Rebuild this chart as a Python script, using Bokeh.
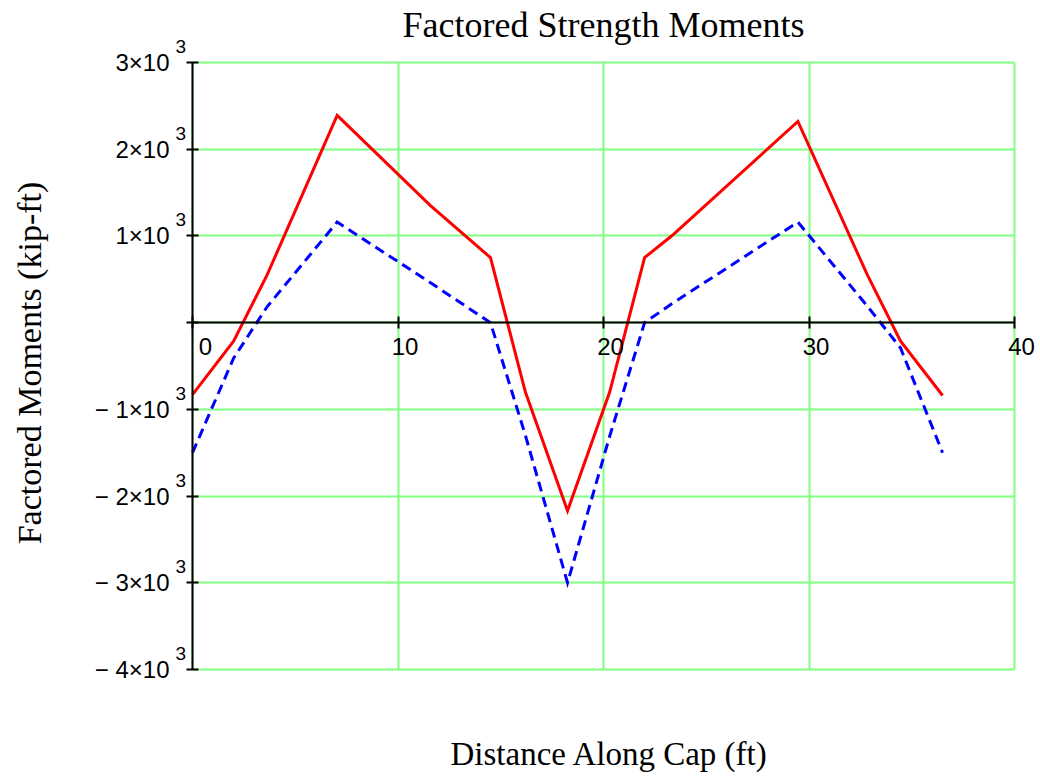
import math
from bokeh.plotting import figure
from bokeh.models import Range1d, FixedTicker, Label
from bokeh.embed import file_html
from bokeh.resources import INLINE

# ---- data ----
x_ft = [0.0, 2.0, 3.62, 7.04, 11.58, 14.5, 16.2, 18.25, 20.3, 22.0, 23.34, 29.46, 32.84, 34.45, 36.5]
m_max = [-830, -215, 545, 2390, 1350, 750, -800, -2170, -800, 750, 1005, 2320, 550, -210, -840]
m_min = [-1500, -410, 180, 1160, 460, 0, -1300, -3000, -1310, 0, 220, 1160, 190, -290, -1500]

x_ticks = [0, 10, 20, 30, 40]
x_tick_labels = ["0", "10", "20", "30", "40"]
y_ticks = [-4000, -3000, -2000, -1000, 0, 1000, 2000, 3000]
y_tick_labels = ["\u2212 4\u00d710", "\u2212 3\u00d710", "\u2212 2\u00d710", "\u2212 1\u00d710", "",
                 "1\u00d710", "2\u00d710", "3\u00d710"]
y_tick_exponents = ["3", "3", "3", "3", "", "3", "3", "3"]

title_text = "Factored Strength Moments"
x_title = "Distance Along Cap (ft)"
y_title = "Factored Moments (kip-ft)"

# ---- layout (pixels) ----
W, H = 1040, 776
PL, PR, PT, PB = 192, 1014, 62, 669          # plotting area inside the canvas
X0, X1, Y0, Y1 = 0, 40, -4000, 3000           # axis limits
sx = (PR - PL) / (X1 - X0)
sy = (PB - PT) / (Y1 - Y0)
x_range = Range1d(X0 - PL / sx, X1 + (W - PR) / sx)
y_range = Range1d(Y0 - (H - PB) / sy, Y1 + PT / sy)

SANS = "Liberation Sans"
SERIF = "Liberation Serif"
GRID = "#80FF80"

p = figure(width=W, height=H, x_range=x_range, y_range=y_range,
           output_backend="svg", toolbar_location=None,
           min_border_left=0, min_border_right=0, min_border_top=0, min_border_bottom=0)
p.outline_line_color = None
p.background_fill_color = "white"
p.border_fill_color = "white"

# grid limited to the axis box
p.xgrid.ticker = FixedTicker(ticks=x_ticks)
p.ygrid.ticker = FixedTicker(ticks=y_ticks)
p.xgrid.bounds = (X0, X1)
p.ygrid.bounds = (Y0, Y1)
p.xgrid.cross_bounds = (Y0, Y1)
p.ygrid.cross_bounds = (X0, X1)
for g in (p.xgrid, p.ygrid):
    g.grid_line_color = GRID
    g.grid_line_width = 2

# y axis at x = 0
ya = p.yaxis[0]
ya.fixed_location = 0
ya.bounds = (Y0, Y1)
ya.ticker = FixedTicker(ticks=y_ticks)
ya.major_label_overrides = {v: t for v, t in zip(y_ticks, y_tick_labels)}
ya.major_label_text_font = SANS
ya.major_label_text_font_size = "24px"
ya.major_label_text_color = "black"
ya.major_label_standoff = 17
ya.axis_line_color = "black"
ya.axis_line_width = 2
ya.major_tick_line_color = "black"
ya.major_tick_line_width = 2
ya.major_tick_in = 6
ya.major_tick_out = 6
ya.minor_tick_line_color = None

# x axis at y = 0
xa = p.xaxis[0]
xa.fixed_location = 0
xa.bounds = (X0, X1)
xa.ticker = FixedTicker(ticks=x_ticks)
xa.major_label_overrides = {v: "" for v in x_ticks}
xa.major_label_text_font_size = "0px"
xa.axis_line_color = "black"
xa.axis_line_width = 2
xa.major_tick_line_color = "black"
xa.major_tick_line_width = 2
xa.major_tick_in = 6
xa.major_tick_out = 6
xa.minor_tick_line_color = None

# data lines
p.line(x_ft, m_max, line_color="#FF0000", line_width=3, line_join="miter")
p.line(x_ft, m_min, line_color="#0000FF", line_width=3, line_dash="10 6", line_join="miter")

# x tick labels (set just right of each tick, as in the reference)
for v, t in zip(x_ticks, x_tick_labels):
    p.add_layout(Label(x=v, y=0, text=t, x_offset=13 if v == 0 else 7, y_offset=-24,
                       text_align="center", text_baseline="alphabetic",
                       text_font=SANS, text_font_size="24px", text_color="black"))

# y tick exponents (superscript "3" of ×10³)
for v, e in zip(y_ticks, y_tick_exponents):
    if e:
        p.add_layout(Label(x=0, y=v, text=e, x_offset=-17, y_offset=16,
                           text_align="left", text_baseline="middle",
                           text_font=SANS, text_font_size="19px", text_color="black"))

# titles
p.add_layout(Label(x=(X0 + X1) / 2, y=Y1, text=title_text, y_offset=38,
                   text_align="center", text_baseline="alphabetic",
                   text_font=SERIF, text_font_size="36px", text_color="black"))
p.add_layout(Label(x=(X0 + X1) / 2, y=Y0, text=x_title, x_offset=6, y_offset=-84,
                   text_align="center", text_baseline="alphabetic",
                   text_font=SERIF, text_font_size="33px", text_color="black"))
p.add_layout(Label(x=X0, y=(Y0 + Y1) / 2, text=y_title, x_offset=-163, y_offset=3,
                   angle=math.pi / 2, text_align="center", text_baseline="alphabetic",
                   text_font=SERIF, text_font_size="34px", text_color="black"))

open("out.html", "w").write(file_html(p, INLINE))
